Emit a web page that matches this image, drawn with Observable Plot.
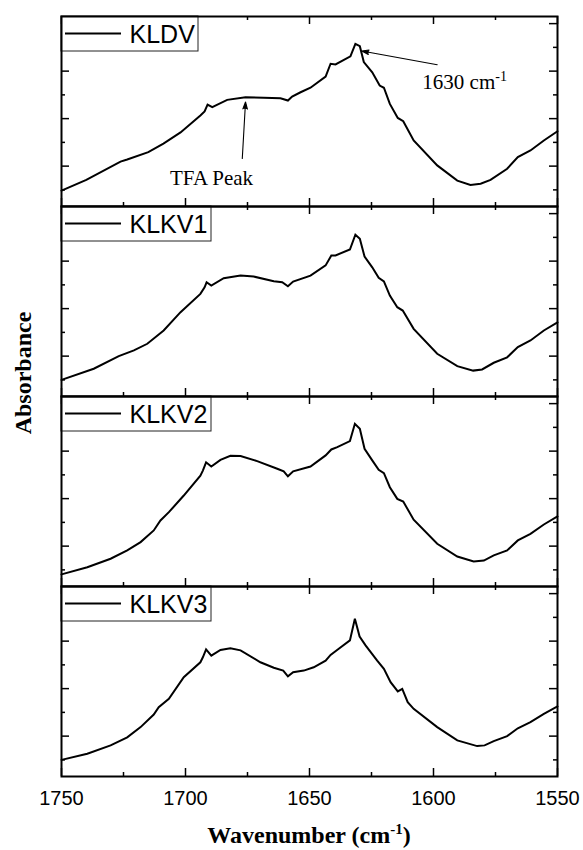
<!DOCTYPE html>
<html>
<head>
<meta charset="utf-8">
<script src="https://cdn.jsdelivr.net/npm/d3@7"></script>
<script src="https://cdn.jsdelivr.net/npm/@observablehq/plot@0.6"></script>
<style>
  body { margin: 0; background: #fff; }
  #wrap { position: relative; width: 583px; height: 850px; }
  #ytitle { position: absolute; left: 23px; top: 373px; transform: translate(-50%, -50%) rotate(-90deg);
            font: bold 24px "Liberation Serif", "Times New Roman", serif; white-space: nowrap; color: #000; }
  #xtitle { position: absolute; left: 61px; width: 496px; top: 822px; text-align: center;
            font: bold 24px "Liberation Serif", "Times New Roman", serif; white-space: nowrap; color: #000; }
  #xtitle sup { font-size: 15px; vertical-align: 9px; line-height: 0; }
</style>
</head>
<body>
<div id="wrap">
  <div id="chart"></div>
  <div id="ytitle">Absorbance</div>
  <div id="xtitle">Wavenumber (cm<sup>-1</sup>)</div>
</div>
<script>
// ---- data ----
const panelNames = ["KLDV", "KLKV1", "KLKV2", "KLKV3"];

const kldvW = [1750,1740,1726.2,1723.5,1715,1708.9,1702,1694,1692.3,1691.1,1689.2,1683.2,1675.8,1668.5,1661.7,1658.7,1657,1653.6,1649.6,1643.5,1641.5,1639.5,1633.5,1631.5,1629.7,1628.1,1624.7,1621.7,1620,1617.6,1614.4,1612.2,1608,1598.5,1590.4,1585.1,1581,1577,1570.3,1566,1560.9,1555.5,1550];
const kldvA = [0.67,1.12,1.89,1.98,2.29,2.65,3.12,3.83,4.0,4.29,4.18,4.49,4.60,4.58,4.56,4.46,4.63,4.81,5.0,5.47,6.01,5.98,6.32,6.85,6.75,6.08,5.65,5.09,5.0,4.32,3.73,3.59,2.78,1.73,1.09,0.91,0.96,1.12,1.59,2.08,2.36,2.78,3.17];

const klkv1W = [1750,1737,1726.9,1720.8,1715.4,1708.8,1702,1694,1692.3,1691.5,1689.6,1684.6,1677.8,1672.5,1664.4,1661,1658.7,1656.6,1649.6,1643.5,1641.2,1639.5,1633.7,1631.5,1629.7,1627.8,1624.7,1622.1,1620,1617.6,1614.6,1612.4,1608,1598.5,1590.4,1584,1580.4,1575.7,1570.3,1566,1560.9,1555.5,1550];
const klkv1A = [0.70,1.17,1.70,1.94,2.22,2.78,3.55,4.32,4.60,4.81,4.67,4.98,5.09,5.05,4.85,4.81,4.64,4.84,5.09,5.52,5.94,5.94,6.19,6.81,6.64,5.89,5.44,5.0,4.85,4.25,3.76,3.62,2.85,1.80,1.28,1.09,1.14,1.42,1.65,2.08,2.36,2.78,3.12];

const klkv2W = [1750,1739.6,1730.2,1723.5,1718.1,1712.8,1710.1,1706.7,1700.7,1694,1693,1691.7,1689.6,1685.9,1681.9,1677.8,1671.1,1663,1660.4,1658.7,1656.6,1649.6,1643.5,1641.2,1638.8,1633.7,1631.7,1629.7,1627.8,1624.7,1622.1,1620,1617.6,1614.6,1612.2,1608,1598.5,1590.4,1583.8,1579.7,1575.7,1570.3,1566,1560.9,1555.5,1550];
const klkv2A = [0.51,0.81,1.17,1.52,1.87,2.36,2.78,3.13,3.83,4.67,4.88,5.23,5.05,5.33,5.50,5.49,5.28,4.96,4.85,4.64,4.85,5.05,5.52,5.77,5.87,6.12,6.85,6.64,5.80,5.31,4.91,4.77,4.18,3.69,3.58,2.81,1.80,1.26,1.05,1.09,1.31,1.52,1.94,2.22,2.61,2.95];

const klkv3W = [1750,1739.6,1730.2,1723.5,1718.1,1712.8,1710.8,1706.7,1700.7,1694,1693,1691.7,1689.6,1685.9,1681.9,1677.8,1669.8,1664.4,1660.6,1658.7,1656.6,1652.3,1648.3,1643.5,1641.5,1638.2,1633.7,1631.7,1629.8,1627.4,1622.7,1620,1617.3,1614.4,1612.6,1610.4,1608,1598.5,1590.4,1582.4,1579.4,1575.7,1570.3,1566,1560.9,1555.5,1550];
const klkv3A = [0.70,0.96,1.31,1.65,2.08,2.61,2.92,3.27,4.18,4.81,5.02,5.35,5.09,5.33,5.40,5.31,4.81,4.58,4.46,4.22,4.39,4.46,4.60,4.88,5.12,5.38,5.73,6.64,5.89,5.52,4.88,4.53,3.97,3.58,3.69,3.13,2.85,2.08,1.52,1.28,1.31,1.49,1.70,2.03,2.29,2.64,2.95];

const xMajorTicks = [1750, 1700, 1650, 1600, 1550];
const xMinorTicks = [1725, 1675, 1625, 1575];
const yMajorTicks = [1.7, 3.7, 5.7, 7.7];
const yMinorTicks = [0.7, 2.7, 4.7, 6.7];

// annotations (top panel)
const annoLabels = ["TFA Peak", "1630 cm-1"];
const annoTextW = [1689.5, 1604.5];
const annoTextA = [1.18, 5.24];
const arrowTailW = [1677.1, 1598.5];
const arrowTailA = [2.02, 5.97];
const arrowHeadW = [1675.8, 1628.9];
const arrowHeadA = [4.40, 6.55];

// ---- build tables ----
const seriesW = [kldvW, klkv1W, klkv2W, klkv3W];
const seriesA = [kldvA, klkv1A, klkv2A, klkv3A];
const spectra = panelNames.flatMap((name, k) => seriesW[k].map((w, i) => ({name, w, a: seriesA[k][i]})));
const annos = annoLabels.map((label, i) => ({
  name: "KLDV", label, tw: annoTextW[i], ta: annoTextA[i],
  x1: arrowTailW[i], y1: arrowTailA[i], x2: arrowHeadW[i], y2: arrowHeadA[i]
}));

// ---- layout ----
const W = 583, H = 815, mT = 16, mB = 39, mL = 61, mR = 26;
const plotW = W - mL - mR;
const facetH = (H - mT - mB) / panelNames.length;
const LONG = 8, SHORT = 4;
const serif = "Liberation Serif, Times New Roman, serif";
const sans = "Liberation Sans, Arial, sans-serif";

const chart = Plot.plot({
  width: W, height: H,
  marginTop: mT, marginBottom: mB, marginLeft: mL, marginRight: mR,
  style: {background: "white", color: "black"},
  x: {domain: [1750, 1550]},
  y: {domain: [0, 8], axis: null},
  fy: {domain: panelNames, padding: 0, axis: null},
  marks: [
    // y ticks, inward, left and right
    Plot.tickY(yMajorTicks, {y: d => d, insetRight: plotW - LONG, strokeWidth: 1.5}),
    Plot.tickY(yMinorTicks, {y: d => d, insetRight: plotW - SHORT, strokeWidth: 1.5}),
    Plot.tickY(yMajorTicks, {y: d => d, insetLeft: plotW - LONG, strokeWidth: 1.5}),
    Plot.tickY(yMinorTicks, {y: d => d, insetLeft: plotW - SHORT, strokeWidth: 1.5}),
    // x ticks, inward, bottom and top
    Plot.tickX(xMajorTicks, {x: d => d, insetTop: facetH - LONG, strokeWidth: 1.5}),
    Plot.tickX(xMinorTicks, {x: d => d, insetTop: facetH - SHORT, strokeWidth: 1.5}),
    Plot.tickX(xMajorTicks, {x: d => d, insetBottom: facetH - LONG, strokeWidth: 1.5}),
    Plot.tickX(xMinorTicks, {x: d => d, insetBottom: facetH - SHORT, strokeWidth: 1.5}),
    // spectra
    Plot.line(spectra, {x: "w", y: "a", fy: "name", z: "name", stroke: "black", strokeWidth: 2, strokeLinejoin: "miter", strokeMiterlimit: 3}),
    // legend boxes
    Plot.rect(panelNames.filter(n => n.length === 4), {fy: d => d, insetRight: plotW - 137, insetBottom: facetH - 35, fill: "white", stroke: "#222", strokeWidth: 1}),
    Plot.rect(panelNames.filter(n => n.length !== 4), {fy: d => d, insetRight: plotW - 150, insetBottom: facetH - 35, fill: "white", stroke: "#222", strokeWidth: 1}),
    Plot.rect(panelNames, {fy: d => d, insetLeft: 4, insetRight: plotW - 60, insetTop: 16.5, insetBottom: facetH - 18.5, fill: "black"}),
    Plot.text(panelNames, {fy: d => d, text: d => d, frameAnchor: "top-left", dx: 68, dy: 18.5, lineAnchor: "middle", textAnchor: "start",
      fontSize: 25, fontFamily: sans, fill: "black"}),
    // annotations
    Plot.arrow(annos, {x1: "x1", y1: "y1", x2: "x2", y2: "y2", fy: "name", stroke: "black", fill: "black", strokeWidth: 1.1, headLength: 10, headAngle: 36}),
    Plot.text(annos.slice(0, 1), {x: "tw", y: "ta", fy: "name", text: "label", textAnchor: "middle", lineAnchor: "middle",
      fontSize: 21, fontFamily: serif, fill: "black"}),
    Plot.text(annos.slice(1), {x: "tw", y: "ta", fy: "name", text: "label", textAnchor: "start", lineAnchor: "middle",
      fontSize: 21, fontFamily: serif, fill: "black"}),
    // frames
    Plot.frame({stroke: "black", strokeWidth: 2}),
    // bottom tick labels
    Plot.axisX({anchor: "bottom", ticks: xMajorTicks, tickSize: 0, tickPadding: 14, label: null,
      fontSize: 20, fontFamily: sans, tickFormat: d => String(d)})
  ]
});
document.getElementById("chart").appendChild(chart);

// superscript for the "cm-1" annotation
chart.querySelectorAll("text").forEach(t => {
  if (t.textContent === "1630 cm-1") {
    t.textContent = "1630 cm";
    const sup = document.createElementNS("http://www.w3.org/2000/svg", "tspan");
    sup.setAttribute("dy", "-8");
    sup.setAttribute("font-size", "14");
    sup.textContent = "-1";
    t.appendChild(sup);
  }
});
</script>
</body>
</html>
